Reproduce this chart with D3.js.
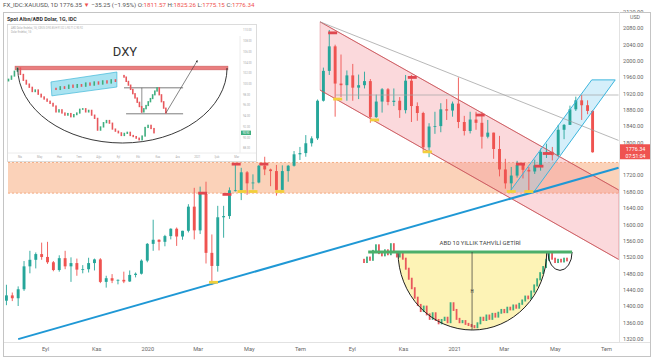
<!DOCTYPE html>
<html>
<head>
<meta charset="utf-8">
<script src="https://cdn.jsdelivr.net/npm/d3@7"></script>
<style>
  body { margin: 0; background: #fff; }
  svg { display: block; }
  text { font-family: Roboto, "Liberation Sans", sans-serif; }
</style>
</head>
<body>
<div class="canvas"></div>
<script>
const dims = { width: 654, height: 358 };
const plot = { left: 5, right: 619, top: 12, bottom: 342 };

// XAUUSD weekly candles (week ending Friday), open = previous close
const firstOpen = 1413;
const closes = [
  1426, 1419, 1441, 1497, 1513, 1527, 1520, 1507, 1488, 1517, 1497, 1505, 1489, 1490, 1505, 1514, 1459, 1468, 1462, 1464, 1460, 1476, 1479, 1511,
  1552, 1562, 1557, 1571, 1589, 1570, 1584, 1643, 1585, 1674, 1530, 1498, 1617, 1620, 1683, 1683, 1727, 1700, 1702, 1743, 1734, 1730, 1684, 1730, 1743, 1771,
  1774, 1798, 1810, 1902, 1975, 2035, 1944, 1940, 1964, 1934, 1940, 1950, 1862, 1900, 1930, 1899, 1902, 1879, 1951, 1889, 1872, 1788, 1839, 1840, 1881, 1878,
  1895, 1850, 1828, 1856, 1848, 1814, 1824, 1784, 1734, 1700, 1719, 1745, 1733, 1729, 1744, 1777, 1777, 1769, 1831, 1843, 1881, 1903, 1891, 1877, 1776
];
const highs = [
  1452, 1433, 1448, 1510, 1535, 1531, 1555, 1557, 1510, 1524, 1535, 1519, 1516, 1500, 1518, 1516, 1517, 1474, 1478, 1465, 1484, 1487, 1482, 1514,
  1554, 1611, 1563, 1574, 1590, 1592, 1584, 1649, 1689, 1692, 1704, 1575, 1645, 1645, 1690, 1748, 1738, 1730, 1722, 1745, 1765, 1736, 1745, 1744, 1745, 1779,
  1789, 1818, 1815, 1905, 1983, 2075, 2039, 2015, 1976, 1992, 1966, 1973, 1955, 1917, 1933, 1933, 1932, 1911, 1965, 1965, 1898, 1875, 1847, 1875, 1896, 1906,
  1900, 1959, 1865, 1875, 1875, 1875, 1855, 1824, 1816, 1760, 1740, 1755, 1745, 1740, 1758, 1785, 1797, 1789, 1843, 1845, 1890, 1912, 1916, 1903, 1879
];
const lows = [
  1402, 1412, 1400, 1437, 1480, 1492, 1513, 1503, 1485, 1484, 1490, 1459, 1474, 1480, 1482, 1487, 1456, 1445, 1456, 1453, 1456, 1459, 1470, 1477,
  1507, 1535, 1536, 1546, 1563, 1547, 1562, 1580, 1563, 1576, 1504, 1451, 1484, 1567, 1613, 1680, 1659, 1672, 1685, 1700, 1720, 1693, 1670, 1683, 1704, 1741,
  1757, 1765, 1790, 1806, 1900, 1965, 1863, 1911, 1902, 1902, 1906, 1932, 1848, 1860, 1873, 1891, 1889, 1860, 1871, 1850, 1853, 1775, 1764, 1821, 1825, 1855,
  1863, 1835, 1817, 1822, 1831, 1785, 1810, 1760, 1717, 1687, 1676, 1714, 1712, 1677, 1723, 1731, 1762, 1756, 1765, 1808, 1843, 1877, 1855, 1869, 1775
];
const lastDay = new Date(2021, 5, 17);

const timeTicks = [
  new Date(2019, 8, 1), new Date(2019, 10, 1), new Date(2020, 0, 1), new Date(2020, 2, 1),
  new Date(2020, 4, 1), new Date(2020, 6, 1), new Date(2020, 8, 1), new Date(2020, 10, 1),
  new Date(2021, 0, 1), new Date(2021, 2, 1), new Date(2021, 4, 1), new Date(2021, 6, 1)
];
const timeLabels = ['Eyl', 'Kas', '2020', 'Mar', 'May', 'Tem', 'Eyl', 'Kas', '2021', 'Mar', 'May', 'Tem'];
// 1760 sits under the last-price tag, so it is not listed
const priceTicks = [2120, 2080, 2040, 2000, 1960, 1920, 1880, 1840, 1800, 1720, 1680, 1640, 1600, 1560, 1520, 1480, 1440, 1400, 1360, 1320];

// drawn annotations, as [date, price]
const zone = [1676, 1751];
const pinkUpper = [[new Date(2020, 6, 25), 2095], [new Date(2021, 6, 16), 1684]];
const pinkLower = [[new Date(2020, 6, 25), 1928], [new Date(2021, 6, 16), 1514]];
const greyLine = [[new Date(2020, 6, 25), 2095], [new Date(2021, 6, 16), 1805]];
const flatLine = [[new Date(2020, 7, 12), 1916], [new Date(2021, 6, 16), 1916]];
const blueChannel = [[new Date(2021, 2, 8), 1679], [new Date(2021, 5, 14), 1953], [new Date(2021, 6, 12), 1953], [new Date(2021, 3, 6), 1679]];
const trendLine = [[new Date(2019, 6, 31), 1319], [new Date(2021, 6, 16), 1738]];
const redMarks = [
  [new Date(2020, 2, 7), 1676], [new Date(2020, 3, 5), 1673], [new Date(2020, 3, 16), 1747], [new Date(2020, 4, 19), 1747],
  [new Date(2020, 7, 9), 2068], [new Date(2020, 10, 12), 1959], [new Date(2021, 1, 1), 1867], [new Date(2021, 2, 21), 1747],
  [new Date(2021, 3, 12), 1742], [new Date(2021, 3, 22), 1773]
];
const yellowMarks = [
  [new Date(2020, 2, 20), 1458], [new Date(2020, 3, 23), 1680], [new Date(2020, 4, 6), 1680], [new Date(2020, 5, 7), 1680],
  [new Date(2020, 7, 15), 1906], [new Date(2020, 8, 28), 1855], [new Date(2020, 10, 30), 1777], [new Date(2021, 2, 10), 1680],
  [new Date(2021, 2, 31), 1680]
];

// DXY inset series
const dxyVals = [
  100.9, 101.5, 102.4, 103.0, 101.8, 100.7, 100.0, 99.4, 98.6, 98.9, 98.1, 97.6, 97.2, 96.8, 96.4, 95.9, 94.8,
  95.2, 94.6, 94.2, 94.5, 93.9, 94.3, 94.6, 95.3, 95.4, 94.8, 95.1, 94.2, 93.6, 91.4, 92.0, 92.8, 93.2, 92.7,
  91.6, 91.2, 90.9, 90.4, 90.8, 91.0, 90.4, 90.2, 89.9, 89.6, 90.3, 91.9, 92.3, 91.7, 90.9
];
const boxVals = [99.0, 99.5, 99.2, 99.8, 99.4, 99.9, 99.6, 100.2, 99.8, 100.4, 100.0, 100.6, 100.2, 100.8, 100.5];
const wVals = [101.3, 100.5, 99.8, 99.0, 98.2, 97.4, 96.6, 95.8, 94.8, 95.4, 96.0, 96.7, 97.3, 98.0, 98.7, 99.3, 98.0, 96.7, 95.5, 94.6];
const dxyTicks = [110, 108, 106, 104, 102, 100, 98, 96, 94, 92, 90, 88];
const dxyMonths = ['Nis', 'May', 'Haz', 'Tem', 'Ağu', 'Eyl', 'Eki', 'Kas', 'Ara', '2021', 'Şub', 'Mar'];

// US 10Y yield inset series
const yieldVals = [
  1.72, 1.80, 1.76, 1.92, 2.02, 1.88, 1.84, 1.93, 1.86, 2.04, 1.90, 1.82, 1.88,
  1.78, 1.60, 1.42, 1.25, 1.08, 0.95, 0.84,
  0.92, 0.78, 0.70, 0.80, 0.68, 0.62,
  0.68, 0.72, 0.64, 0.98, 0.86, 0.70, 0.64, 0.66, 0.61, 0.59, 0.57, 0.55,
  0.62, 0.72, 0.68, 0.76, 0.70, 0.79, 0.74, 0.81, 0.86, 0.82, 0.90, 0.87, 0.94, 0.90, 0.97, 1.03,
  1.10, 1.07, 1.19, 1.30, 1.41, 1.52, 1.63, 1.76, 1.90,
  1.78, 1.72, 1.76, 1.73, 1.78, 1.75
];

const up = '#26a69a', down = '#ef5350';

const svg = d3.select('.canvas')
  .append('svg')
    .attr('width', dims.width)
    .attr('height', dims.height);

svg.append('rect').attr('width', dims.width).attr('height', dims.height).attr('fill', '#fff');

// scales
const x = d3.scaleTime()
  .domain([new Date(2019, 8, 1), new Date(2021, 6, 1)])
  .range([45, 606]);
const y = d3.scaleLinear()
  .domain([1312, 2119])
  .range([plot.bottom, plot.top]);

const weeks = d3.timeFriday.range(new Date(2019, 6, 19), new Date(2021, 5, 12));
weeks.push(lastDay);
const candles = closes.map((c, i) => ({
  date: d3.timeDay.offset(weeks[i], -2),
  open: i ? closes[i - 1] : firstOpen,
  close: c, high: highs[i], low: lows[i]
}));

svg.append('clipPath').attr('id', 'plotClip')
  .append('rect')
    .attr('x', plot.left).attr('y', plot.top)
    .attr('width', plot.right - plot.left).attr('height', plot.bottom - plot.top);

const graph = svg.append('g').attr('clip-path', 'url(#plotClip)');
const pt = d => [x(d[0]), y(d[1])];
const line = d3.line().x(d => x(d[0])).y(d => y(d[1]));

// orange zone
graph.append('rect')
  .attr('x', plot.left + 3).attr('width', plot.right - plot.left - 3)
  .attr('y', y(zone[1])).attr('height', y(zone[0]) - y(zone[1]))
  .attr('fill', 'rgba(247,165,115,0.5)');
zone.forEach(v => graph.append('line')
  .attr('x1', plot.left + 3).attr('x2', plot.right)
  .attr('y1', y(v)).attr('y2', y(v))
  .attr('stroke', '#f0a070').attr('stroke-width', 0.8).attr('stroke-dasharray', '2,2'));

// pink descending channel
graph.append('path')
  .attr('d', 'M' + [pt(pinkUpper[0]), pt(pinkUpper[1]), pt(pinkLower[1]), pt(pinkLower[0])].join('L') + 'Z')
  .attr('fill', 'rgba(244,140,150,0.33)')
  .attr('stroke', 'rgba(220,110,120,0.6)').attr('stroke-width', 0.7);

// blue rising channel
graph.append('path')
  .attr('d', 'M' + blueChannel.map(pt).join('L') + 'Z')
  .attr('fill', 'rgba(125,205,238,0.32)')
  .attr('stroke', 'none');

// candles
const cw = 2.9;
const cg = graph.append('g');
cg.selectAll('line')
  .data(candles)
  .enter().append('line')
    .attr('x1', d => x(d.date)).attr('x2', d => x(d.date))
    .attr('y1', d => y(d.high)).attr('y2', d => y(d.low))
    .attr('stroke', d => d.close >= d.open ? up : down)
    .attr('stroke-width', 0.9);
cg.selectAll('rect')
  .data(candles)
  .enter().append('rect')
    .attr('x', d => x(d.date) - cw / 2)
    .attr('width', cw)
    .attr('y', d => y(Math.max(d.open, d.close)))
    .attr('height', d => Math.max(0.8, Math.abs(y(d.open) - y(d.close))))
    .attr('fill', d => d.close >= d.open ? up : down);

// annotation lines
[pinkUpper, pinkLower].forEach(l => graph.append('path').attr('d', line(l))
  .attr('fill', 'none').attr('stroke', '#c9575b').attr('stroke-width', 0.9));
graph.append('path').attr('d', line(greyLine)).attr('fill', 'none').attr('stroke', '#9a9a9a').attr('stroke-width', 0.7);
graph.append('path').attr('d', line(flatLine)).attr('fill', 'none').attr('stroke', '#a5a5a5').attr('stroke-width', 0.7);
[[blueChannel[0], blueChannel[1]], [blueChannel[3], blueChannel[2]], [blueChannel[1], blueChannel[2]]]
  .forEach(l => graph.append('path').attr('d', line(l))
    .attr('fill', 'none').attr('stroke', '#3bb5dd').attr('stroke-width', 1));
graph.append('path').attr('d', line(trendLine))
  .attr('fill', 'none').attr('stroke', '#1f98d5').attr('stroke-width', 2);

// support / resistance markers
const marks = (data, fill) => graph.append('g').selectAll('rect')
  .data(data)
  .enter().append('rect')
    .attr('x', d => x(d[0]) - 4.5).attr('y', d => y(d[1]) - 1.4)
    .attr('width', 9).attr('height', 2.8)
    .attr('fill', fill);
marks(redMarks, '#e0474f');
marks(yellowMarks, '#f2cf3c');

// ---- 10Y yield inset ----
const yX = d3.scaleLinear().domain([0, yieldVals.length - 1]).range([364, 567]);
const yY = d3.scaleLinear().domain([0.5, 1.9]).range([330, 252]);
const arc = (sx, sy, i0, i1, top, bottom) => {
  const x0 = sx(i0), x1 = sx(i1), yt = sy(top), yb = sy(bottom);
  return `M${x0},${yt} A${(x1 - x0) / 2},${yb - yt} 0 0 0 ${x1},${yt}`;
};
const yieldG = svg.append('g');
yieldG.append('path').attr('d', arc(yX, yY, 11.4, 61.2, 1.9, 0.5)).attr('fill', '#fdf3b6');
const yc = yieldVals.map((v, i) => ({ i, open: i ? yieldVals[i - 1] : 1.76, close: v }));
yieldG.selectAll('rect.yc')
  .data(yc)
  .enter().append('rect')
    .attr('x', d => yX(d.i) - 0.9).attr('width', 1.8)
    .attr('y', d => yY(Math.max(d.open, d.close)) - 1)
    .attr('height', d => Math.abs(yY(d.open) - yY(d.close)) + 2)
    .attr('fill', d => d.close >= d.open ? '#3fae7f' : '#e8575c');
yieldG.append('path').attr('d', arc(yX, yY, 11.4, 61.2, 1.9, 0.5))
  .attr('fill', 'none').attr('stroke', '#222').attr('stroke-width', 1);
yieldG.append('path').attr('d', arc(yX, yY, 61.6, 69.7, 1.9, 1.57))
  .attr('fill', 'none').attr('stroke', '#222').attr('stroke-width', 1);
yieldG.append('line')
  .attr('x1', yX(1.4)).attr('x2', yX(69.7)).attr('y1', yY(1.9)).attr('y2', yY(1.9))
  .attr('stroke', '#4caf6a').attr('stroke-width', 3);
yieldG.append('line')
  .attr('x1', yX(36.2)).attr('x2', yX(36.2)).attr('y1', yY(1.9)).attr('y2', yY(0.5))
  .attr('stroke', '#333').attr('stroke-width', 0.7);
yieldG.append('text').attr('x', yX(36.2)).attr('y', yY(1.2)).attr('dy', '0.35em')
  .attr('text-anchor', 'middle').attr('font-size', 4.5).attr('fill', '#333').text('H');
yieldG.append('text').attr('x', yX(38.9)).attr('y', yY(2.06)).attr('dy', '0.35em')
  .attr('text-anchor', 'middle').attr('font-size', 6).attr('fill', '#444').text('ABD 10 YILLIK TAHVİLİ GETİRİ');

// ---- DXY inset ----
const inset = svg.append('g');
inset.append('rect').attr('x', 7.5).attr('y', 24.5).attr('width', 249).attr('height', 137)
  .attr('fill', '#fff').attr('stroke', '#d4d4d4').attr('stroke-width', 0.8);
inset.append('line').attr('x1', 240).attr('x2', 240).attr('y1', 36).attr('y2', 153).attr('stroke', '#ececec');
inset.append('line').attr('x1', 8).attr('x2', 256).attr('y1', 153).attr('y2', 153).attr('stroke', '#ececec');
inset.append('text').attr('x', 11).attr('y', 28.6).attr('font-size', 2.6).attr('fill', '#aaa')
  .text('ABD Dolar Endeksi, 1G, ICEUS    O:90.85 H:91.02 L:90.71 C:90.92');
inset.append('text').attr('x', 11).attr('y', 33.4).attr('font-size', 2.6).attr('fill', '#aaa')
  .text('Dolar Endeksi, 1G');

const dX = d3.scaleLinear().domain([0, dxyVals.length - 1]).range([8.5, 154]);
const dY = d3.scaleLinear().domain([89, 103]).range([143, 68]);

inset.selectAll('text.dt')
  .data(dxyTicks)
  .enter().append('text')
    .attr('x', 243).attr('y', d => dY(d)).attr('dy', '0.35em')
    .attr('font-size', 2.8).attr('fill', '#aaa')
    .text(d => d3.format('.2f')(d));
inset.selectAll('text.dm')
  .data(dxyMonths)
  .enter().append('text')
    .attr('x', (d, i) => 20 + i * 19.7).attr('y', 157.5)
    .attr('text-anchor', 'middle').attr('font-size', 2.8).attr('fill', '#aaa')
    .text(d => d);

// resistance band
inset.append('rect')
  .attr('x', dX(2.2)).attr('width', dX(73.9) - dX(2.2))
  .attr('y', dY(103.35)).attr('height', dY(102.65) - dY(103.35))
  .attr('fill', '#ea7e7f').attr('stroke', '#c85a5c').attr('stroke-width', 0.5);

// cyan box
inset.append('path')
  .attr('d', 'M' + [[14.3, 100.4], [36.5, 102.25], [36.5, 99.45], [14.6, 97.8]]
    .map(d => [dX(d[0]), dY(d[1])]).join('L') + 'Z')
  .attr('fill', '#a9e3f1').attr('stroke', '#3fb7d9').attr('stroke-width', 0.7);

// small candles helper
const mini = (vals, xs, first) => inset.append('g').selectAll('rect')
  .data(vals)
  .enter().append('rect')
    .attr('x', (d, i) => xs(i) - 0.8).attr('width', 1.6)
    .attr('y', (d, i) => dY(Math.max(d, i ? vals[i - 1] : first)) - 0.6)
    .attr('height', (d, i) => Math.abs(dY(d) - dY(i ? vals[i - 1] : first)) + 1.2)
    .attr('fill', (d, i) => d >= (i ? vals[i - 1] : first) ? '#3fae7f' : '#e8575c');

mini(dxyVals, i => dX(i), 100.6);
mini(boxVals, i => dX(16 + i * 1.43), 99.2);

// W pattern
inset.append('line').attr('x1', dX(38.9)).attr('x2', dX(58.8)).attr('y1', dY(99.3)).attr('y2', dY(99.3))
  .attr('stroke', '#444').attr('stroke-width', 0.7);
inset.append('line').attr('x1', dX(39.6)).attr('x2', dX(58.8)).attr('y1', dY(94.45)).attr('y2', dY(94.45))
  .attr('stroke', '#444').attr('stroke-width', 0.7);
inset.append('line').attr('x1', dX(44.9)).attr('x2', dX(44.9)).attr('y1', dY(99.3)).attr('y2', dY(94.6))
  .attr('stroke', '#444').attr('stroke-width', 0.6);
mini(wVals, i => dX(38.9 + i * 0.742), 101.6);

svg.append('defs').append('marker')
  .attr('id', 'arrow').attr('viewBox', '0 0 10 10').attr('refX', 5).attr('refY', 5)
  .attr('markerWidth', 4).attr('markerHeight', 4).attr('orient', 'auto')
  .append('path').attr('d', 'M0,0L10,5L0,10Z').attr('fill', '#333');
inset.append('line')
  .attr('x1', dX(53)).attr('y1', dY(94.6)).attr('x2', dX(63.5)).attr('y2', dY(104.3))
  .attr('stroke', '#333').attr('stroke-width', 0.6).attr('marker-end', 'url(#arrow)');

// cup arc
inset.append('path').attr('d', arc(dX, dY, 3.1, 73.6, 103, 89))
  .attr('fill', 'none').attr('stroke', '#222').attr('stroke-width', 0.9);

inset.append('text').attr('x', 125).attr('y', 51).attr('dy', '0.35em')
  .attr('text-anchor', 'middle').attr('font-size', 13).attr('fill', '#333').text('DXY');

// last value tag
const lastDxy = dxyVals[dxyVals.length - 1];
inset.append('rect').attr('x', 241).attr('y', dY(lastDxy) - 2.2).attr('width', 10).attr('height', 4.4).attr('fill', '#3fae7f');
inset.append('text').attr('x', 246).attr('y', dY(lastDxy)).attr('dy', '0.35em')
  .attr('text-anchor', 'middle').attr('font-size', 2.6).attr('fill', '#fff').text(d3.format('.2f')(lastDxy));

// ---- axes ----
const xAxis = d3.axisBottom(x)
  .tickValues(timeTicks)
  .tickFormat((d, i) => timeLabels[i])
  .tickSize(0).tickPadding(5);
svg.append('g')
  .attr('transform', `translate(0, ${plot.bottom})`)
  .call(xAxis)
  .call(g => g.select('.domain').remove())
  .selectAll('text')
    .attr('fill', '#666').attr('font-size', 5.6).attr('font-family', 'Roboto, sans-serif');

const yAxis = d3.axisRight(y)
  .tickValues(priceTicks)
  .tickFormat(d3.format('.2f'))
  .tickSize(0).tickPadding(4);
svg.append('g')
  .attr('transform', `translate(${plot.right}, 0)`)
  .call(yAxis)
  .call(g => g.select('.domain').remove())
  .selectAll('text')
    .attr('fill', '#666').attr('font-size', 5.6).attr('font-family', 'Roboto, sans-serif');

svg.append('rect').attr('x', 622).attr('y', 13).attr('width', 28).attr('height', 7).attr('fill', '#fff');
svg.append('text').attr('x', 635).attr('y', 16.8).attr('dy', '0.35em').attr('text-anchor', 'middle')
  .attr('font-size', 5.3).attr('fill', '#666').text('USD');

// last price label
const last = candles[candles.length - 1];
const ly = y(last.close);
svg.append('rect').attr('x', 620).attr('y', ly - 8).attr('width', 31).attr('height', 15).attr('fill', '#ef5350');
svg.append('text').attr('x', 635.5).attr('y', ly - 2.8).attr('dy', '0.35em').attr('text-anchor', 'middle')
  .attr('font-size', 5.4).attr('fill', '#fff').text(d3.format('.2f')(1776.34));
svg.append('text').attr('x', 635.5).attr('y', ly + 3.6).attr('dy', '0.35em').attr('text-anchor', 'middle')
  .attr('font-size', 5.2).attr('fill', '#fff').text('07:51:04');

// frame
svg.append('rect').attr('x', 3.5).attr('y', 12.5).attr('width', 647).attr('height', 344)
  .attr('fill', 'none').attr('stroke', '#c4c4c4').attr('stroke-width', 1);
svg.append('line').attr('x1', plot.right + 0.5).attr('x2', plot.right + 0.5).attr('y1', 12).attr('y2', plot.bottom)
  .attr('stroke', '#e2e2e2');
svg.append('line').attr('x1', 4).attr('x2', 650).attr('y1', plot.bottom + 0.5).attr('y2', plot.bottom + 0.5)
  .attr('stroke', '#e2e2e2');

// header
const grey = '#555', red = '#ef5350';
const header = svg.append('text').attr('x', 3).attr('y', 7.2).attr('font-size', 6.2);
[
  ['FX_IDC:XAUUSD, 1D  1776.35 ', grey], ['▼ ', red], ['−35.25 (−1.95%)  O:', grey], ['1811.57', red],
  [' H:', grey], ['1825.26', red], [' L:', grey], ['1775.15', red], [' C:', grey], ['1776.34', red]
].forEach(([t, c]) => header.append('tspan').attr('fill', c).text(t));

svg.append('text').attr('x', 7).attr('y', 21.3).attr('font-size', 5.3).attr('font-weight', 'bold')
  .attr('fill', '#333').text('Spot Altın/ABD Dolar, 1G, IDC');
</script>
</body>
</html>
